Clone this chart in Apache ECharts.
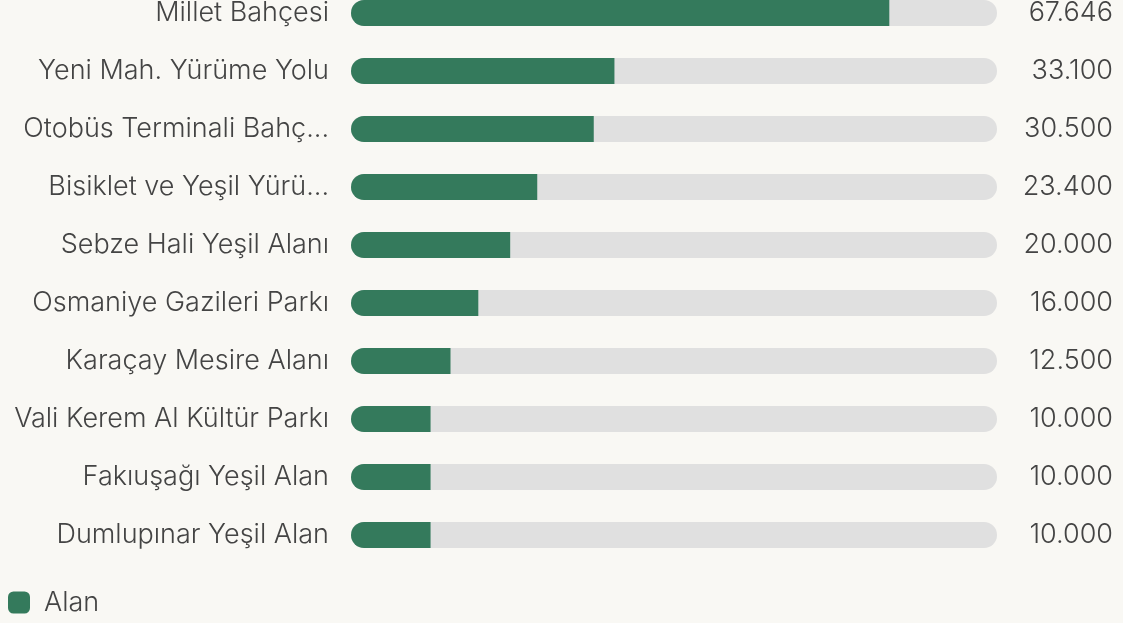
<!DOCTYPE html>
<html>
<head>
<meta charset="utf-8">
<script src="https://cdn.jsdelivr.net/npm/echarts@6/dist/echarts.min.js"></script>
<style>
  html, body { margin: 0; padding: 0; background: #f9f8f4; }
  #chart { width: 1123px; height: 623px; }
</style>
</head>
<body>
<div id="chart"></div>
<script>
// alanlar (m²)
const categories = [
  'Millet Bahçesi',
  'Yeni Mah. Yürüme Yolu',
  'Otobüs Terminali Bahçesi',
  'Bisiklet ve Yeşil Yürüyüş Yolu',
  'Sebze Hali Yeşil Alanı',
  'Osmaniye Gazileri Parkı',
  'Karaçay Mesire Alanı',
  'Vali Kerem Al Kültür Parkı',
  'Fakıuşağı Yeşil Alan',
  'Dumlupınar Yeşil Alan'
]
const values = [67646, 33100, 30500, 23400, 20000, 16000, 12500, 10000, 10000, 10000]
const valueLabels = values.map(v => v.toLocaleString('tr-TR'))

const font = 'Inter, "Noto Sans", sans-serif'
const chart = echarts.init(document.getElementById('chart'))

chart.setOption({
  backgroundColor: '#f9f8f4',
  textStyle: { fontFamily: font },
  grid: { left: 351, right: 126, top: -16, bottom: 59, outerBoundsMode: 'none', containLabel: false },
  legend: {
    left: 8, bottom: 7, padding: 0,
    itemWidth: 22, itemHeight: 22, itemGap: 10,
    icon: 'roundRect',
    textStyle: { fontSize: 27, color: '#444', fontFamily: font, fontWeight: 300, padding: [0, 0, 0, 9] },
    data: ['Alan']
  },
  xAxis: {
    type: 'value', min: 0,
    max: v => v.max * 1.2,
    show: false
  },
  yAxis: [
    {
      type: 'category', inverse: true, data: categories,
      axisLine: { show: false }, axisTick: { show: false },
      axisLabel: {
        fontSize: 27, color: '#444', fontWeight: 300, fontFamily: font,
        margin: 22, width: 316, overflow: 'truncate', ellipsis: '...'
      }
    },
    {
      type: 'category', inverse: true, data: valueLabels, position: 'right',
      axisLine: { show: false }, axisTick: { show: false },
      axisLabel: {
        fontSize: 27, color: '#444', fontWeight: 300, fontFamily: font,
        align: 'right', margin: 116
      }
    }
  ],
  series: [{
    name: 'Alan', type: 'bar', data: values,
    barWidth: 26,
    itemStyle: { color: '#347a5c', borderRadius: [13, 0, 0, 13] },
    showBackground: true,
    backgroundStyle: { color: '#e0e0e0', borderRadius: 13 }
  }]
})
</script>
</body>
</html>
